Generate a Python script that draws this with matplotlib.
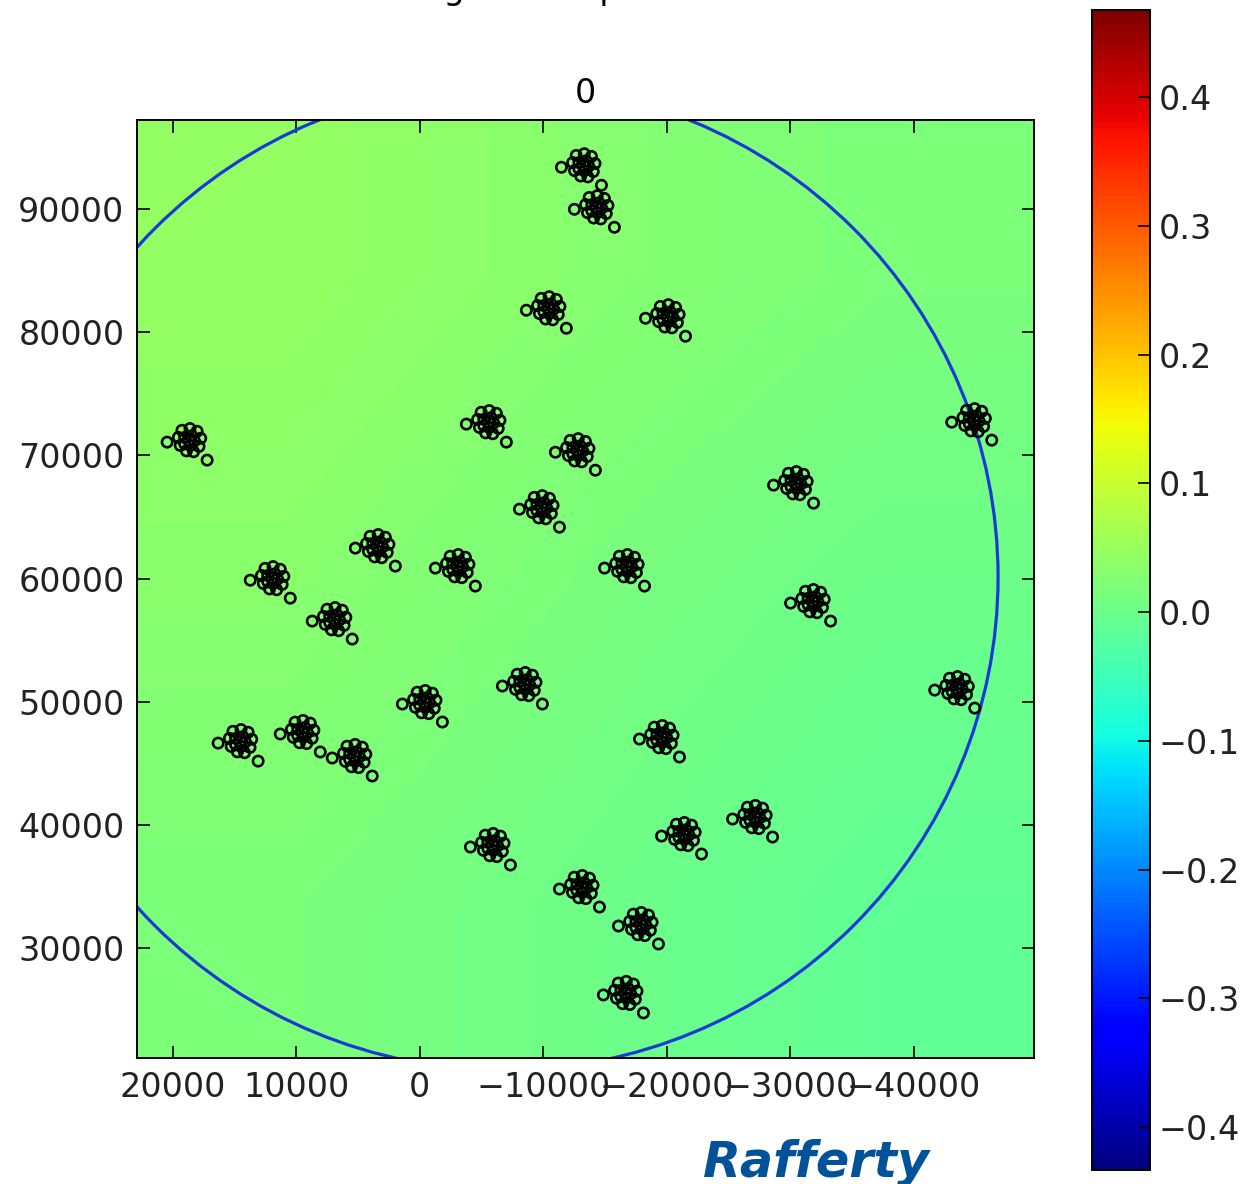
import matplotlib
matplotlib.use("Agg")
import matplotlib.pyplot as plt
from matplotlib.patches import Circle
import numpy as np

# piercing point offsets of each station from the direction centre (m)
STATION_DX = [0, 360, -220, -430, -70, 360,
              580, -70, -650, -940, -800, -360, 220, 720, 870,
              1780, -1460]
STATION_DY = [0, 220, 360, -70, -430, -290,
              800, 940, 720, 150, -510, -940, -870, -430, 220,
              -160, -1620]

# direction centres projected on the screen (m)
DIR_X = [-13250, -14300, -10410, -20060, 18680, -5550, -12760, -44860,
         -9850, -30430, 3440, -3040, -16740, 11950, 6930, -31810,
         -370, -8470, -43480, 14550, 9520, 5310, -19570, -27110,
         -5880, -21360, -13090, -17870, -16650]
DIR_Y = [93530, 90120, 81930, 81280, 71230, 72690, 70410, 72850,
         65790, 67740, 62630, 61010, 61010, 60030, 56710, 58170,
         49980, 51440, 51110, 46810, 47550, 45600, 47140, 40650,
         38380, 39270, 34970, 31970, 26380]

# screen values on a coarse grid over the plot extent (top row first)
SCREEN = [[0.045, 0.030, 0.018],
          [0.032, 0.016, 0.002],
          [0.018, 0.004, -0.012]]

XLIM = (22900, -49700)
YLIM = (21100, 97200)
VMIN, VMAX = -0.4334, 0.4676
CBAR_TICKS = [-0.4, -0.3, -0.2, -0.1, 0.0, 0.1, 0.2, 0.3, 0.4]

# field of view
FOV_CENTRE = (-6830, 60120)
FOV_RADIUS = 40000

TITLE = "0"
SUPTITLE = "Screen gain and phase"


def main():
    plt.rcParams['font.family'] = ['DejaVu Sans']
    fig = plt.figure(figsize=(12.41, 11.84), dpi=100)
    ax = fig.add_axes([0.1104, 0.1064, 0.7224, 0.7922])

    im = ax.imshow(np.array(SCREEN), cmap='jet', vmin=VMIN, vmax=VMAX,
                   extent=(XLIM[0], XLIM[1], YLIM[0], YLIM[1]),
                   origin='upper', aspect='auto', interpolation='bilinear')

    px = []
    py = []
    for x0, y0 in zip(DIR_X, DIR_Y):
        for dx, dy in zip(STATION_DX, STATION_DY):
            px.append(x0 + dx)
            py.append(y0 + dy)
    ax.scatter(px, py, s=55, facecolors='none', edgecolors='k',
               linewidths=1.9, zorder=3)

    ax.add_patch(Circle(FOV_CENTRE, FOV_RADIUS, fill=False, ec='#1a3ad6',
                        lw=2.3, zorder=2))

    ax.set_xlim(XLIM)
    ax.set_ylim(YLIM)
    ax.set_xticks([20000, 10000, 0, -10000, -20000, -30000, -40000])
    ax.set_yticks([30000, 40000, 50000, 60000, 70000, 80000, 90000])
    ax.tick_params(direction='in', top=True, right=True, length=9,
                   width=1.2, pad=9, labelsize=24, labelcolor='#222222')
    for s in ax.spines.values():
        s.set_linewidth(1.4)
    ax.set_title(TITLE, fontsize=24, pad=12)

    cax = fig.add_axes([0.88, 0.0118, 0.0467, 0.9797])
    cb = fig.colorbar(im, cax=cax, ticks=CBAR_TICKS)
    cb.outline.set_linewidth(1.4)
    cax.tick_params(direction='in', length=9, width=1.2, pad=6,
                    labelsize=24, labelcolor='#222222')

    fig.text(318 / 1241, 1.0008, SUPTITLE, fontsize=24, ha='left',
             va='baseline')
    fig.text(703 / 1241, 1 - 1177 / 1184, "Rafferty", fontsize=35.5,
             fontweight='bold', style='italic', color='#005299')

    fig.savefig("out.png", dpi=100)


if __name__ == "__main__":
    main()
